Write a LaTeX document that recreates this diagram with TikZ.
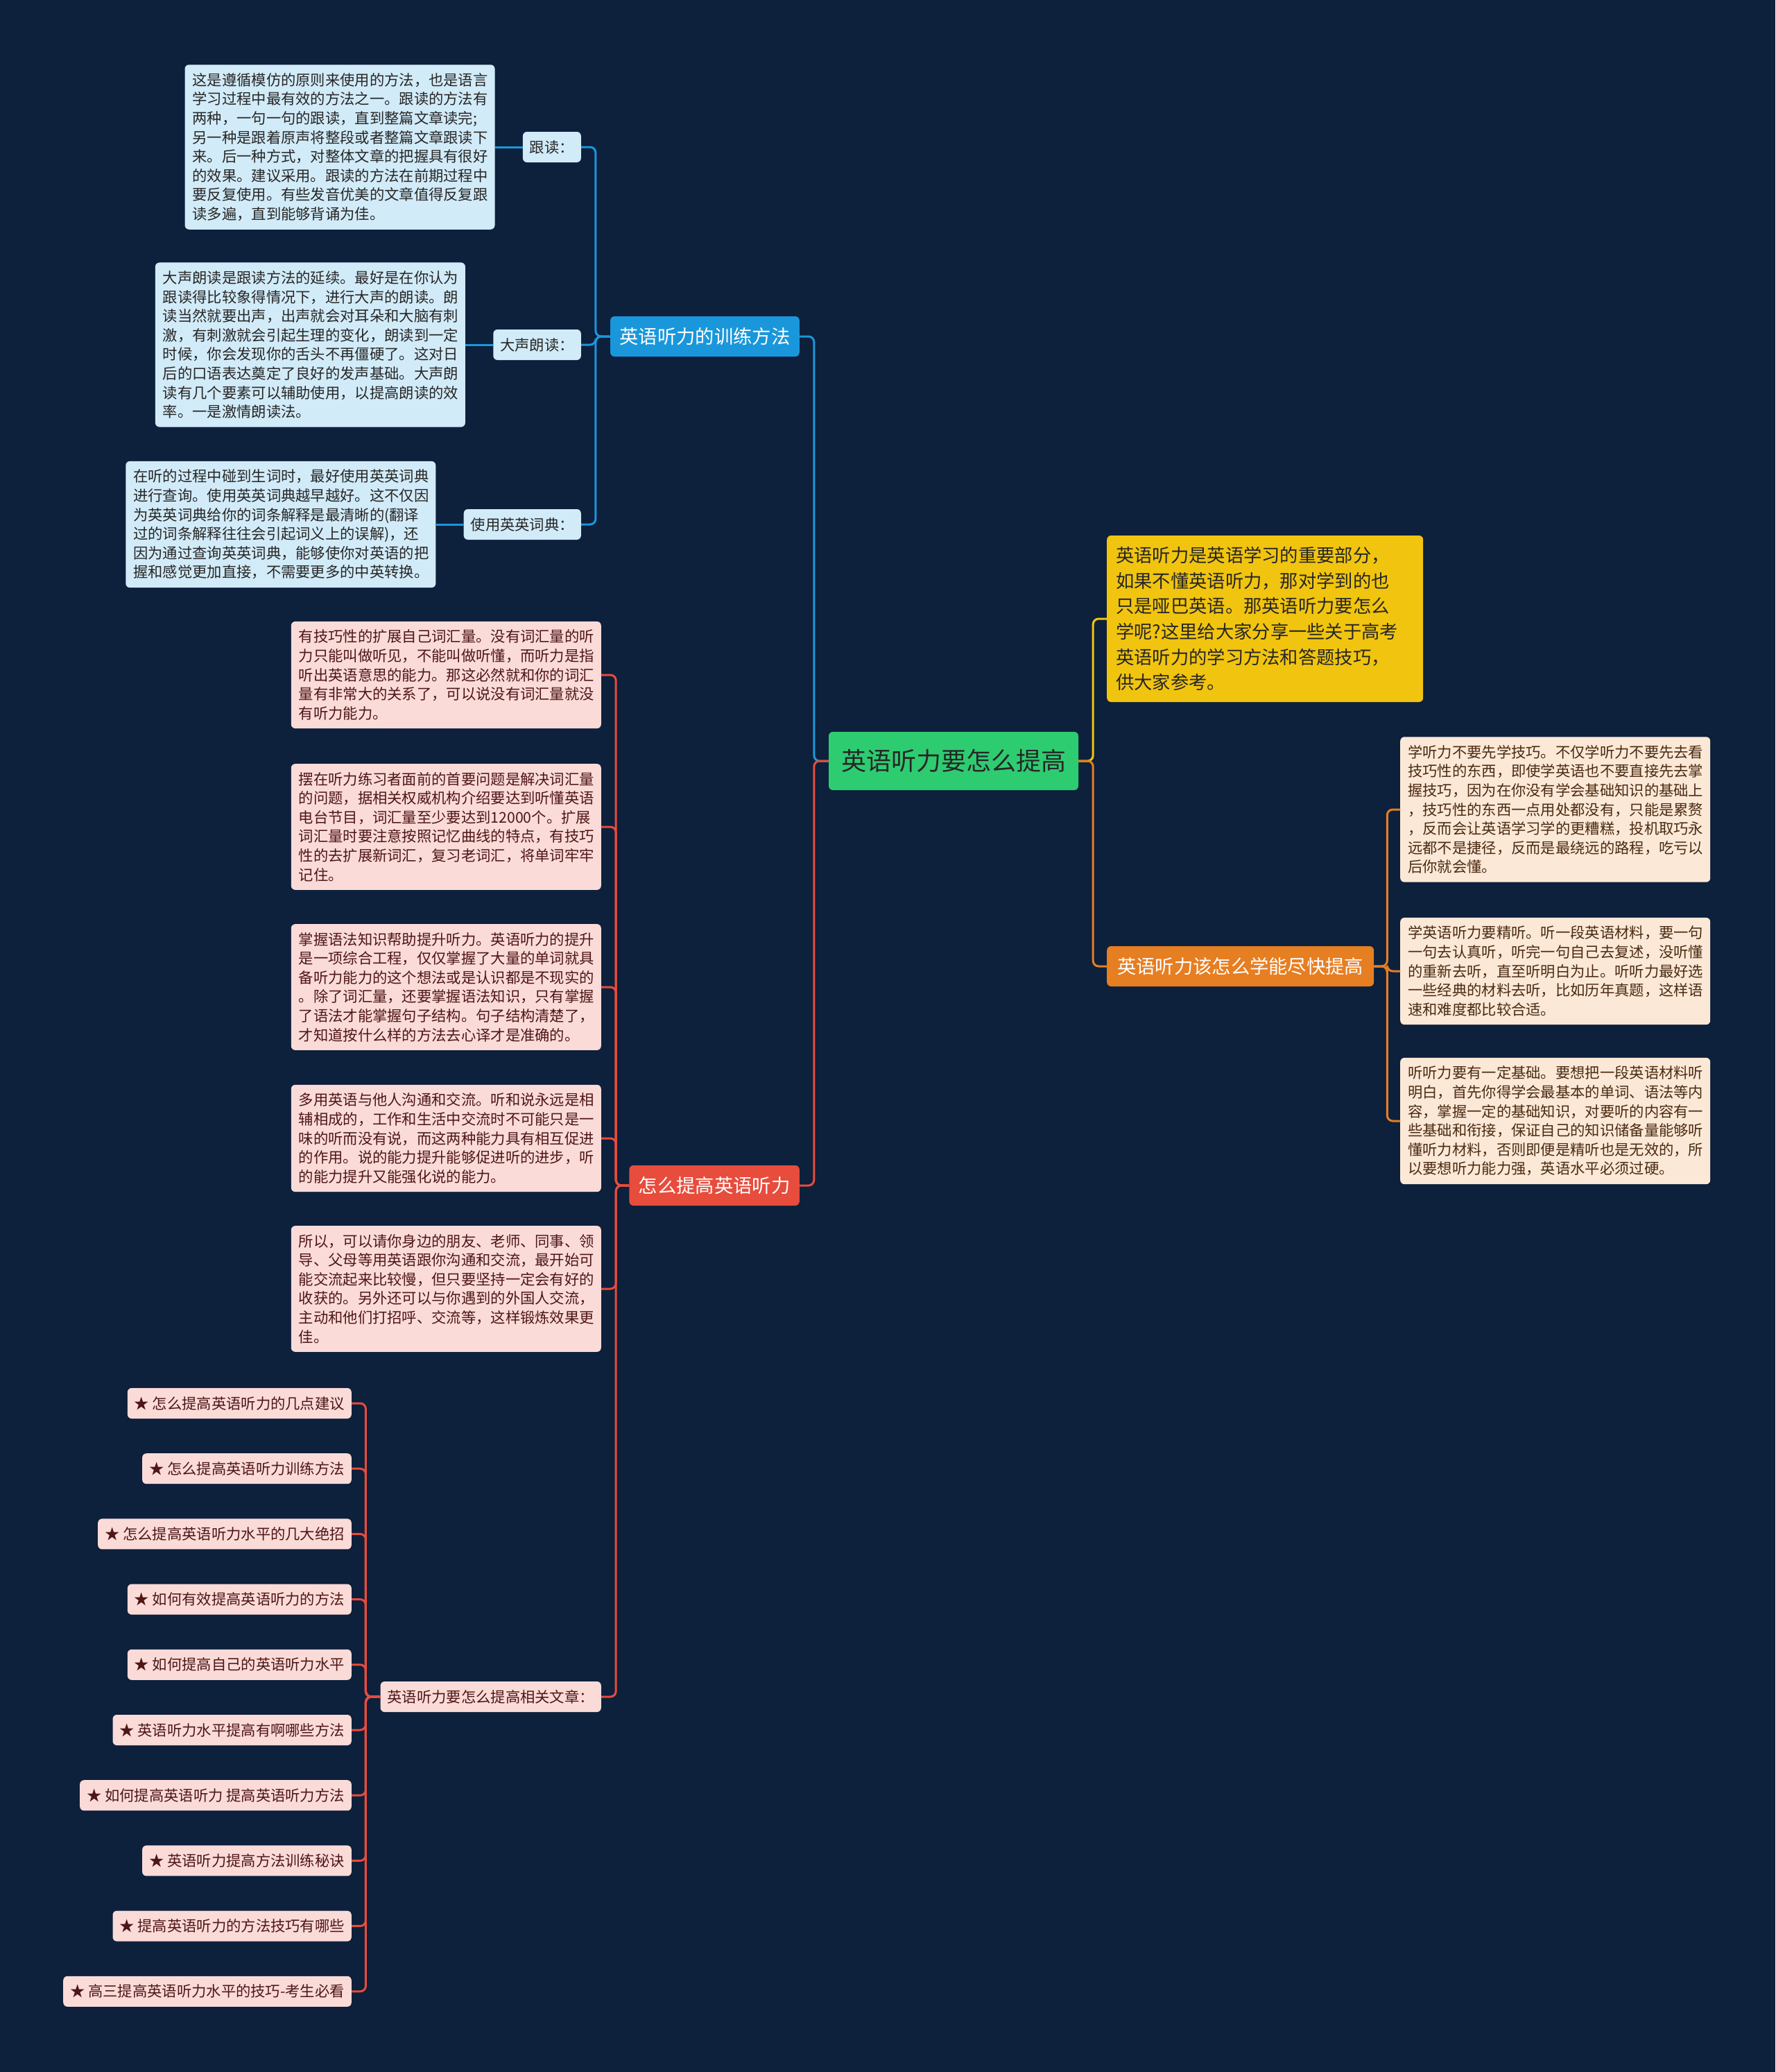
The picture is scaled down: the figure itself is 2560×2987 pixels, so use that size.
\documentclass[tikz,border=0pt]{standalone}
\usepackage{fontspec}
\setmainfont{Noto Sans CJK SC}
\usepackage{xcolor}
\usetikzlibrary{positioning}
\definecolor{bgnavy}{HTML}{0D203C}
\definecolor{rootgreen}{HTML}{2ECC71}
\definecolor{trainblue}{HTML}{1A97DB}
\definecolor{palebluefill}{HTML}{D2EBF8}
\definecolor{introyellow}{HTML}{F1C40F}
\definecolor{quickorange}{HTML}{E67E22}
\definecolor{peachfill}{HTML}{FBE8D6}
\definecolor{peachtext}{HTML}{4A2A12}
\definecolor{boostred}{HTML}{E74C3C}
\definecolor{pinkfill}{HTML}{FADBD8}
\definecolor{pinktext}{HTML}{4E1616}

\begin{document}
\begin{tikzpicture}[x=1pt, y=-1pt]
  \tikzstyle{note}=[rounded corners=6pt, text width=425pt, align=left, inner xsep=11pt, inner ysep=12pt, font=\fontsize{21.3}{27.6}\selectfont]
  \tikzstyle{bluenote}=[note, fill=palebluefill, text=black!85]
  \tikzstyle{peachnote}=[note, fill=peachfill, text=peachtext]
  \tikzstyle{pinknote}=[note, fill=pinkfill, text=pinktext]
  \tikzstyle{tag}=[rounded corners=6pt, inner xsep=10pt, minimum height=44pt, font=\fontsize{21.3}{27.6}\selectfont]
  \tikzstyle{branch}=[rounded corners=6pt, inner xsep=13.5pt, minimum height=58pt, font=\fontsize{27.3}{32}\selectfont, text=white]
  \tikzstyle{link}=[line width=3pt, rounded corners=8pt]

  \fill[bgnavy] (0,0) rectangle (2560,2987);
  \useasboundingbox (0,0) rectangle (2560,2987);

  % centre and main branches
  \node[rounded corners=6pt, fill=rootgreen, text=black!85, inner xsep=18pt, minimum height=84pt, font=\fontsize{36}{40}\selectfont] (root) at (1375,1097) {英语听力要怎么提高};
  \node[branch, fill=trainblue, anchor=east] (train) at (1153,485) {英语听力的训练方法};
  \node[branch, fill=boostred, anchor=east] (boost) at (1153,1709) {怎么提高英语听力};
  \node[branch, fill=quickorange, anchor=west, inner xsep=15pt] (quick) at (1596,1393) {英语听力该怎么学能尽快提高};
  \node[rounded corners=6pt, fill=introyellow, text=black!85, anchor=west, text width=430pt, align=left, inner xsep=13pt, inner ysep=16pt, font=\fontsize{26.3}{36.7}\selectfont] (intro) at (1596,892)
    {英语听力是英语学习的重要部分，\\如果不懂英语听力，那对学到的也\\只是哑巴英语。那英语听力要怎么\\学呢?这里给大家分享一些关于高考\\英语听力的学习方法和答题技巧，\\供大家参考。};

  % training methods
  \node[tag, fill=palebluefill, text=black!85, anchor=east] (gendu) at (838,212) {跟读：};
  \node[tag, fill=palebluefill, text=black!85, anchor=east] (langdu) at (838,497) {大声朗读：};
  \node[tag, fill=palebluefill, text=black!85, anchor=east] (cidian) at (838,756) {使用英英词典：};
  \node[bluenote, left=40pt of gendu] (txtgendu)
    {这是遵循模仿的原则来使用的方法，也是语言\\学习过程中最有效的方法之一。跟读的方法有\\两种，一句一句的跟读，直到整篇文章读完;\\另一种是跟着原声将整段或者整篇文章跟读下\\来。后一种方式，对整体文章的把握具有很好\\的效果。建议采用。跟读的方法在前期过程中\\要反复使用。有些发音优美的文章值得反复跟\\读多遍，直到能够背诵为佳。};
  \node[bluenote, left=40pt of langdu] (txtlangdu)
    {大声朗读是跟读方法的延续。最好是在你认为\\跟读得比较象得情况下，进行大声的朗读。朗\\读当然就要出声，出声就会对耳朵和大脑有刺\\激，有刺激就会引起生理的变化，朗读到一定\\时候，你会发现你的舌头不再僵硬了。这对日\\后的口语表达奠定了良好的发声基础。大声朗\\读有几个要素可以辅助使用，以提高朗读的效\\率。一是激情朗读法。};
  \node[bluenote, left=40pt of cidian] (txtcidian)
    {在听的过程中碰到生词时，最好使用英英词典\\进行查询。使用英英词典越早越好。这不仅因\\为英英词典给你的词条解释是最清晰的(翻译\\过的词条解释往往会引起词义上的误解)，还\\因为通过查询英英词典，能够使你对英语的把\\握和感觉更加直接，不需要更多的中英转换。};

  % quick improvement
  \node[peachnote, anchor=west] (q1) at (2019,1167)
    {学听力不要先学技巧。不仅学听力不要先去看\\技巧性的东西，即使学英语也不要直接先去掌\\握技巧，因为在你没有学会基础知识的基础上\\，技巧性的东西一点用处都没有，只能是累赘\\，反而会让英语学习学的更糟糕，投机取巧永\\远都不是捷径，反而是最绕远的路程，吃亏以\\后你就会懂。};
  \node[peachnote, anchor=west] (q2) at (2019,1400)
    {学英语听力要精听。听一段英语材料，要一句\\一句去认真听，听完一句自己去复述，没听懂\\的重新去听，直至听明白为止。听听力最好选\\一些经典的材料去听，比如历年真题，这样语\\速和难度都比较合适。};
  \node[peachnote, anchor=west] (q3) at (2019,1616)
    {听听力要有一定基础。要想把一段英语材料听\\明白，首先你得学会最基本的单词、语法等内\\容，掌握一定的基础知识，对要听的内容有一\\些基础和衔接，保证自己的知识储备量能够听\\懂听力材料，否则即便是精听也是无效的，所\\以要想听力能力强，英语水平必须过硬。};

  % how to improve
  \node[pinknote, anchor=east] (b1) at (867,973)
    {有技巧性的扩展自己词汇量。没有词汇量的听\\力只能叫做听见，不能叫做听懂，而听力是指\\听出英语意思的能力。那这必然就和你的词汇\\量有非常大的关系了，可以说没有词汇量就没\\有听力能力。};
  \node[pinknote, anchor=east] (b2) at (867,1192)
    {摆在听力练习者面前的首要问题是解决词汇量\\的问题，据相关权威机构介绍要达到听懂英语\\电台节目，词汇量至少要达到12000个。扩展\\词汇量时要注意按照记忆曲线的特点，有技巧\\性的去扩展新词汇，复习老词汇，将单词牢牢\\记住。};
  \node[pinknote, anchor=east] (b3) at (867,1423)
    {掌握语法知识帮助提升听力。英语听力的提升\\是一项综合工程，仅仅掌握了大量的单词就具\\备听力能力的这个想法或是认识都是不现实的\\。除了词汇量，还要掌握语法知识，只有掌握\\了语法才能掌握句子结构。句子结构清楚了，\\才知道按什么样的方法去心译才是准确的。};
  \node[pinknote, anchor=east] (b4) at (867,1641)
    {多用英语与他人沟通和交流。听和说永远是相\\辅相成的，工作和生活中交流时不可能只是一\\味的听而没有说，而这两种能力具有相互促进\\的作用。说的能力提升能够促进听的进步，听\\的能力提升又能强化说的能力。};
  \node[pinknote, anchor=east] (b5) at (867,1858)
    {所以，可以请你身边的朋友、老师、同事、领\\导、父母等用英语跟你沟通和交流，最开始可\\能交流起来比较慢，但只要坚持一定会有好的\\收获的。另外还可以与你遇到的外国人交流，\\主动和他们打招呼、交流等，这样锻炼效果更\\佳。};
  \node[tag, fill=pinkfill, text=pinktext, anchor=east] (rel) at (867,2446) {英语听力要怎么提高相关文章：};
  \foreach \t [count=\i] in {怎么提高英语听力的几点建议, 怎么提高英语听力训练方法, 怎么提高英语听力水平的几大绝招, 如何有效提高英语听力的方法, 如何提高自己的英语听力水平, 英语听力水平提高有啊哪些方法, 如何提高英语听力 提高英语听力方法, 英语听力提高方法训练秘诀, 提高英语听力的方法技巧有哪些, 高三提高英语听力水平的技巧-考生必看}
    \node[tag, fill=pinkfill, text=pinktext, anchor=east] (s\i) at (507,{2023+(\i-1)*94.2}) {★ \t};

  % connectors
  \draw[link, trainblue] (root.west) -- ++(-21,0) |- (train.east);
  \draw[link, boostred] (root.west) -- ++(-21,0) |- (boost.east);
  \draw[link, introyellow] (root.east) -- ++(21,0) |- (intro.west);
  \draw[link, quickorange] (root.east) -- ++(21,0) |- (quick.west);
  \foreach \n in {gendu,langdu,cidian} {
    \draw[link, trainblue] (train.west) -- ++(-21,0) |- (\n.east);
    \draw[link, trainblue] (txt\n.east) -- (\n.west);
  }
  \foreach \n in {q1,q2,q3}
    \draw[link, quickorange] (quick.east) -- ++(19,0) |- (\n.west);
  \foreach \n in {b1,b2,b3,b4,b5,rel}
    \draw[link, boostred] (boost.west) -- ++(-19,0) |- (\n.east);
  \foreach \i in {1,...,10}
    \draw[link, boostred] (rel.west) -- ++(-21,0) |- (s\i.east);
\end{tikzpicture}
\end{document}
